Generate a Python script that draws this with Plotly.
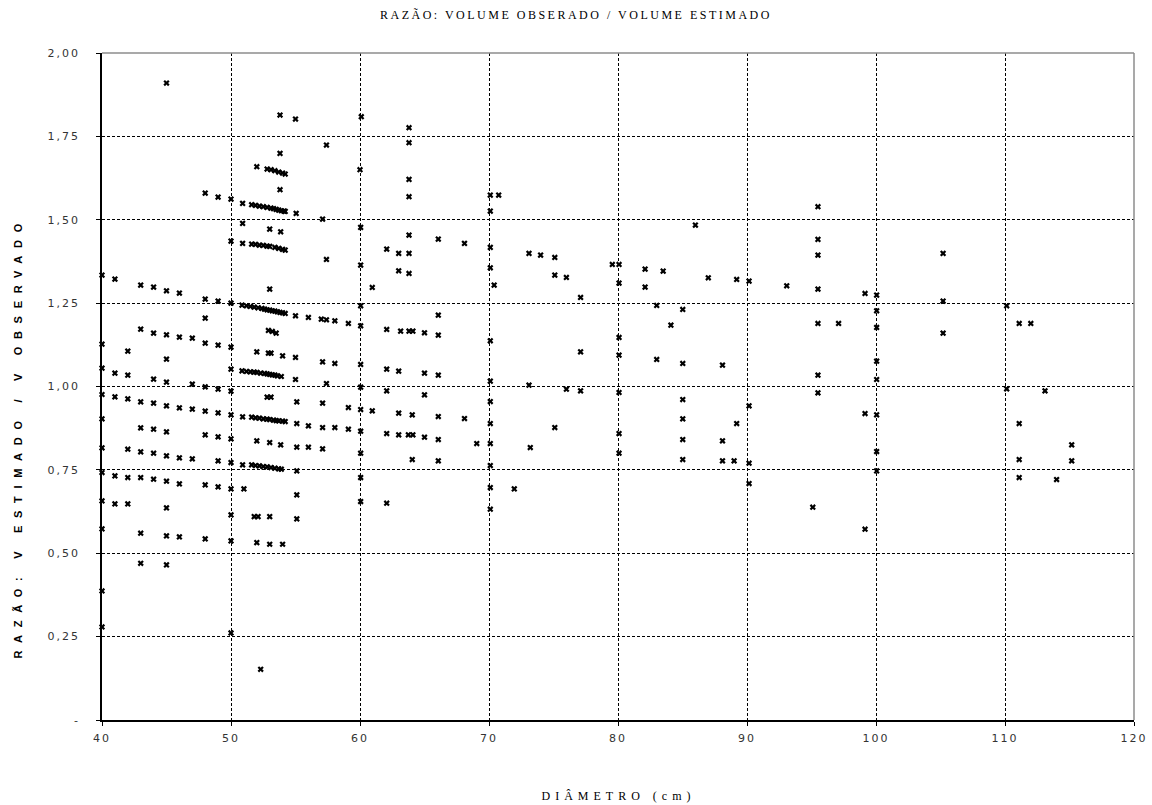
import plotly.graph_objects as go

# ---- data ----
# x = 40 .. 50 (columns)
d_a = [40]*11 + [41]*5 + [42]*6 + [43]*8 + [44]*7 + [45]*12 + [46]*6 + [47]*4 + [48]*9 + [49]*8 + [50]*13
r_a = [1.334, 1.127, 1.055, 0.976, 0.903, 0.816, 0.742, 0.657, 0.573, 0.387, 0.279,
       1.322, 1.040, 0.969, 0.732, 0.648,
       1.106, 1.034, 0.963, 0.812, 0.727, 0.648,
       1.304, 1.172, 0.954, 0.876, 0.804, 0.727, 0.560, 0.470,
       1.298, 1.160, 1.022, 0.950, 0.872, 0.800, 0.722,
       1.910, 1.287, 1.155, 1.082, 1.013, 0.942, 0.864, 0.792, 0.716, 0.636, 0.552, 0.465,
       1.280, 1.148, 0.936, 0.786, 0.708, 0.549,
       1.145, 1.007, 0.932, 0.783,
       1.580, 1.262, 1.205, 1.130, 0.999, 0.926, 0.855, 0.705, 0.543,
       1.568, 1.256, 1.124, 0.992, 0.921, 0.849, 0.777, 0.699,
       1.562, 1.436, 1.250, 1.118, 1.052, 0.986, 0.915, 0.843, 0.772, 0.693, 0.615, 0.537, 0.261]

# dense rows between 50.5 and 54.5
d_rows = [52.0, 52.8, 53.1, 53.4, 53.7, 54.0, 54.2,
          50.9, 51.6, 51.9, 52.2, 52.5, 52.8, 53.1, 53.3, 53.5, 53.7, 53.9, 54.1, 54.2,
          50.9, 51.6, 51.9, 52.2, 52.5, 52.8, 53.0, 53.4, 53.7, 54.0, 54.2,
          50.85, 51.2, 51.5, 51.8, 52.1, 52.4, 52.6, 52.8, 53.0, 53.2, 53.4, 53.6, 53.8, 54.0, 54.2,
          50.85, 51.2, 51.5, 51.8, 52.0, 52.3, 52.6, 52.8, 53.0, 53.2, 53.4, 53.6, 53.9,
          50.9, 51.6, 51.9, 52.2, 52.5, 52.8, 53.0, 53.3, 53.5, 53.7, 54.0, 54.2,
          50.9, 51.6, 51.9, 52.2, 52.5, 52.8, 53.1, 53.4, 53.7, 53.9]
r_rows = [1.659, 1.652, 1.650, 1.647, 1.643, 1.640, 1.637,
          1.549, 1.545, 1.543, 1.541, 1.539, 1.537, 1.535, 1.533, 1.531, 1.529, 1.527, 1.526, 1.525,
          1.429, 1.427, 1.426, 1.424, 1.423, 1.421, 1.420, 1.417, 1.414, 1.411, 1.409,
          1.244, 1.242, 1.240, 1.238, 1.236, 1.234, 1.232, 1.230, 1.229, 1.227, 1.226, 1.224, 1.222, 1.221, 1.219,
          1.047, 1.045, 1.044, 1.043, 1.042, 1.040, 1.039, 1.038, 1.036, 1.035, 1.034, 1.032, 1.030,
          0.909, 0.908, 0.906, 0.905, 0.903, 0.902, 0.901, 0.899, 0.898, 0.897, 0.896, 0.895,
          0.765, 0.765, 0.763, 0.762, 0.760, 0.759, 0.757, 0.755, 0.753, 0.752]

# scattered points between 50.5 and 60.5
d_b = [53.8, 53.8, 53.8, 55.0, 55.05, 50.9, 53.0, 53.85, 53.0, 52.9, 53.2, 53.5, 52.0, 52.9, 53.1,
       54.0, 55.0, 55.0, 55.0, 52.8, 53.1, 55.1, 55.1, 52.0, 53.0, 53.85, 55.1, 55.1, 51.0, 55.1,
       51.8, 52.1, 53.0, 55.1, 52.0, 53.0, 54.0, 52.3,
       57.4, 60.1, 60.0, 57.1, 60.05, 57.4, 60.05, 56.0, 57.0, 57.4, 58.05, 59.1, 60.05, 60.05,
       57.1, 58.05, 60.05, 57.4, 60.05, 57.1, 59.1, 60.05, 56.0, 57.1, 58.05, 59.1, 60.05, 56.0,
       57.1, 60.05, 60.05, 60.05]
r_b = [1.814, 1.699, 1.590, 1.802, 1.519, 1.489, 1.472, 1.464, 1.292, 1.168, 1.165, 1.160, 1.104, 1.100, 1.100,
       1.092, 1.087, 1.212, 1.021, 0.968, 0.968, 0.954, 0.889, 0.837, 0.832, 0.825, 0.818, 0.747, 0.693, 0.675,
       0.610, 0.610, 0.610, 0.603, 0.532, 0.527, 0.527, 0.152,
       1.724, 1.809, 1.650, 1.502, 1.477, 1.381, 1.364, 1.207, 1.202, 1.200, 1.197, 1.189, 1.182, 1.242,
       1.074, 1.069, 1.066, 1.009, 0.998, 0.950, 0.937, 0.931, 0.882, 0.877, 0.877, 0.872, 0.866, 0.818,
       0.813, 0.800, 0.727, 0.655]

# 60.5 .. 72
d_c = [63.8, 63.8, 63.8, 63.8, 63.8, 66.07, 68.1, 62.07, 63.0, 63.8, 63.0, 63.8, 60.95, 66.07,
       62.07, 63.15, 63.8, 64.1, 65.0, 66.07, 70.1, 62.07, 63.0, 65.0, 66.07, 70.1, 62.07, 65.0,
       70.1, 60.95, 63.0, 64.05, 66.07, 68.1, 70.1, 62.07, 63.0, 63.75, 64.1, 65.0, 66.07, 69.05,
       70.1, 64.05, 66.07, 70.1, 70.1, 71.96, 62.07, 70.1, 70.1, 70.75, 70.1, 70.1, 70.1, 70.4]
r_c = [1.776, 1.731, 1.621, 1.569, 1.454, 1.442, 1.429, 1.412, 1.399, 1.399, 1.347, 1.339, 1.297, 1.214,
       1.171, 1.166, 1.166, 1.166, 1.161, 1.154, 1.137, 1.052, 1.046, 1.040, 1.034, 1.016, 0.987, 0.975,
       0.955, 0.927, 0.920, 0.915, 0.910, 0.904, 0.889, 0.859, 0.855, 0.855, 0.855, 0.848, 0.841, 0.829,
       0.829, 0.781, 0.777, 0.763, 0.697, 0.693, 0.650, 0.632, 1.574, 1.574, 1.526, 1.417, 1.356, 1.304]

# 72 .. 94
d_d = [73.1, 74.0, 75.1, 75.1, 76.0, 77.1, 77.1, 73.1, 76.0, 77.1, 75.1, 73.2, 86.0, 79.56, 80.08,
       82.1, 83.5, 87.0, 89.2, 90.16, 93.08, 80.08, 82.1, 83.0, 85.02, 84.1, 80.08, 80.08, 83.0,
       85.02, 88.1, 80.08, 85.02, 90.16, 85.02, 89.2, 80.08, 85.02, 88.1, 80.08, 85.02, 88.1, 89.0,
       90.16, 90.16]
r_d = [1.399, 1.394, 1.387, 1.334, 1.327, 1.267, 1.104, 1.004, 0.992, 0.987, 0.877, 0.817, 1.484, 1.366, 1.366,
       1.352, 1.346, 1.326, 1.321, 1.316, 1.302, 1.310, 1.298, 1.243, 1.231, 1.184, 1.147, 1.094, 1.081,
       1.069, 1.064, 0.982, 0.961, 0.942, 0.903, 0.889, 0.859, 0.841, 0.837, 0.800, 0.781, 0.777, 0.777,
       0.770, 0.709]

# 94 .. 120
d_e = [95.5, 95.5, 95.5, 95.5, 95.5, 97.1, 95.5, 95.5, 95.1, 105.2, 99.15, 100.05, 100.05, 100.05,
       100.05, 100.05, 105.2, 105.2, 110.13, 111.1, 112.0, 99.15, 100.05, 100.05, 100.05, 99.15,
       110.13, 113.1, 111.1, 115.17, 115.17, 111.1, 111.1, 114.0]
r_e = [1.539, 1.441, 1.394, 1.292, 1.189, 1.189, 1.034, 0.981, 0.638, 1.399, 1.279, 1.274, 1.227, 1.177,
       1.076, 1.021, 1.256, 1.160, 1.242, 1.189, 1.189, 0.919, 0.915, 0.805, 0.747, 0.572,
       0.993, 0.987, 0.889, 0.825, 0.777, 0.781, 0.727, 0.721]

x_ticks = [40, 50, 60, 70, 80, 90, 100, 110, 120]
y_ticks = [0, 0.25, 0.5, 0.75, 1.0, 1.25, 1.5, 1.75, 2.0]
y_tick_text = ["-", "0,25", "0,50", "0,75", "1,00", "1,25", "1,50", "1,75", "2,00"]

titulo = "RAZÃO: VOLUME OBSERADO / VOLUME ESTIMADO"
titulo_x = "DIÂMETRO (cm)"
titulo_y = "RAZÃO: V ESTIMADO / V OBSERVADO"

diametro = d_a + d_rows + d_b + d_c + d_d + d_e
razao = r_a + r_rows + r_b + r_c + r_d + r_e

fig = go.Figure()
fig.add_trace(go.Scatter(
    x=diametro, y=razao, mode="markers",
    marker=dict(symbol="x", size=5.5, color="black", line=dict(width=0)),
    cliponaxis=False, showlegend=False, hoverinfo="skip",
))

tick_font = dict(family="DejaVu Sans", size=11, color="#333333")
fig.update_layout(
    width=1152, height=805, autosize=False,
    margin=dict(l=102, r=18, t=53, b=85, pad=0, autoexpand=False),
    paper_bgcolor="white", plot_bgcolor="white",
    xaxis=dict(range=[40, 120], tickvals=x_ticks, ticktext=[str(v) for v in x_ticks],
               showgrid=True, gridcolor="black", gridwidth=1, griddash="3px,2px",
               showline=True, linecolor="black", linewidth=1.5, zeroline=False,
               ticks="outside", ticklen=4, tickcolor="black", tickfont=tick_font,
               ticklabelstandoff=3, automargin=False),
    yaxis=dict(range=[0, 2], tickvals=y_ticks, ticktext=y_tick_text,
               showgrid=True, gridcolor="black", gridwidth=1, griddash="3px,2px",
               showline=True, linecolor="black", linewidth=1.5, zeroline=False,
               ticks="outside", ticklen=4, tickcolor="black", tickfont=tick_font,
               ticklabelstandoff=14, automargin=False),
    shapes=[
        dict(type="line", xref="paper", yref="paper", x0=0, x1=1, y0=1, y1=1,
             line=dict(color="#8c8c8c", width=1.5), layer="above"),
        dict(type="line", xref="paper", yref="paper", x0=1, x1=1, y0=0, y1=1,
             line=dict(color="#8c8c8c", width=1.5), layer="above"),
    ],
    annotations=[
        dict(text=titulo, xref="paper", yref="paper", x=0.459, y=1, yshift=38,
             xanchor="center", yanchor="middle", showarrow=False,
             font=dict(family="Liberation Serif", size=12, color="black")),
        dict(text=titulo_x, xref="paper", yref="paper", x=0.5, y=0, yshift=-76,
             xanchor="center", yanchor="middle", showarrow=False,
             font=dict(family="Liberation Serif", size=12, color="black")),
        dict(text="<b>" + titulo_y + "</b>", xref="paper", yref="paper", x=0, y=0.424, xshift=-84,
             xanchor="center", yanchor="middle", showarrow=False, textangle=-90,
             font=dict(family="Liberation Sans", size=11, color="black")),
    ],
)

post = """
document.body.style.margin = '0';
document.body.style.overflow = 'hidden';
var gd = document.getElementById('{plot_id}');
var ann = gd.querySelectorAll('.annotation-text');
var sp = ['2.5px', '5px', '7.7px'];
for (var i = 0; i < ann.length; i++) { ann[i].style.letterSpacing = sp[i] || '3px'; }
gd.querySelectorAll('.xtick text, .ytick text').forEach(function(e){ e.style.letterSpacing = '2px'; });
"""
fig.write_html("out.html", post_script=post,
               config={"displayModeBar": False, "responsive": False})
